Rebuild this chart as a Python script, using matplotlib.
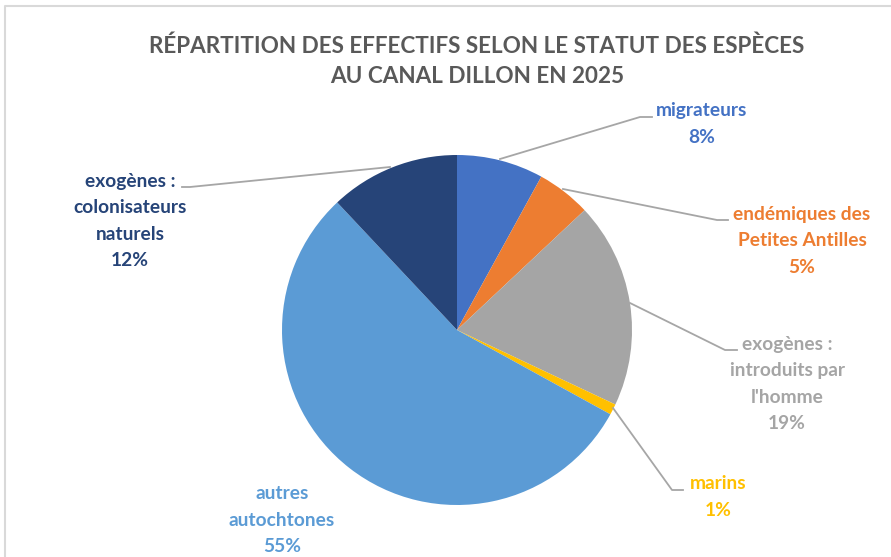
import matplotlib
matplotlib.use("Agg")
import matplotlib.pyplot as plt

W, H = 891, 557

# donnees (%)
labels = ["migrateurs", "endémiques des\nPetites Antilles", "exogènes :\nintroduits par\nl'homme",
          "marins", "autres\nautochtones", "exogènes :\ncolonisateurs\nnaturels"]
values = [8, 5, 19, 1, 55, 12]
colors = ["#4472C4", "#ED7D31", "#A5A5A5", "#FFC000", "#5B9BD5", "#264478"]

title = "RÉPARTITION DES EFFECTIFS SELON LE STATUT DES ESPÈCES\nAU CANAL DILLON EN 2025"

plt.rcParams["font.family"] = ["Lato", "DejaVu Sans"]


def Y(y):
    # coordonnees pixel (origine en haut) -> coordonnees de l'axe
    return H - y


fig = plt.figure(figsize=(W / 100, H / 100), dpi=100)
ax = fig.add_axes([0, 0, 1, 1])

ax.pie(values, colors=colors, startangle=90, counterclock=False,
       center=(457, Y(330)), radius=175, frame=True,
       wedgeprops=dict(linewidth=0))
ax.set_xlim(0, W)
ax.set_ylim(0, H)
ax.set_aspect("equal")
ax.axis("off")

# cadre gris clair (bords gauche et haut seulement visibles)
ax.plot([5, 5, W + 10], [-10, Y(6), Y(6)], color="#D9D9D9", lw=1.5)

ax.text(477, Y(61), title, ha="center", va="center", fontsize=16.2, fontweight="bold",
        color="#595959", linespacing=1.55)

# position des etiquettes (centre du texte) et lignes de rappel
label_pos = [(702, 124), (802, 241), (787, 384), (718, 497), (282, 520), (130, 221)]
leaders = [
    [(500, 159), (640, 117), (652, 117)],
    [(563, 189), (717, 220), (728, 220)],
    [(630, 303), (725, 350), (737, 350)],
    [(613, 408), (672, 490), (683, 490)],
    None,
    [(390, 167), (190, 187), (182, 187)],
]

for lab, v, c, (x, y), pts in zip(labels, values, colors, label_pos, leaders):
    ax.text(x, Y(y), f"{lab}\n{v}%", ha="center", va="center", fontsize=13.8,
            fontweight="bold", color=c, linespacing=1.67)
    if pts:
        ax.plot([p[0] for p in pts], [Y(p[1]) for p in pts], color="#A6A6A6", lw=1.3)

fig.savefig("out.png", dpi=100)
